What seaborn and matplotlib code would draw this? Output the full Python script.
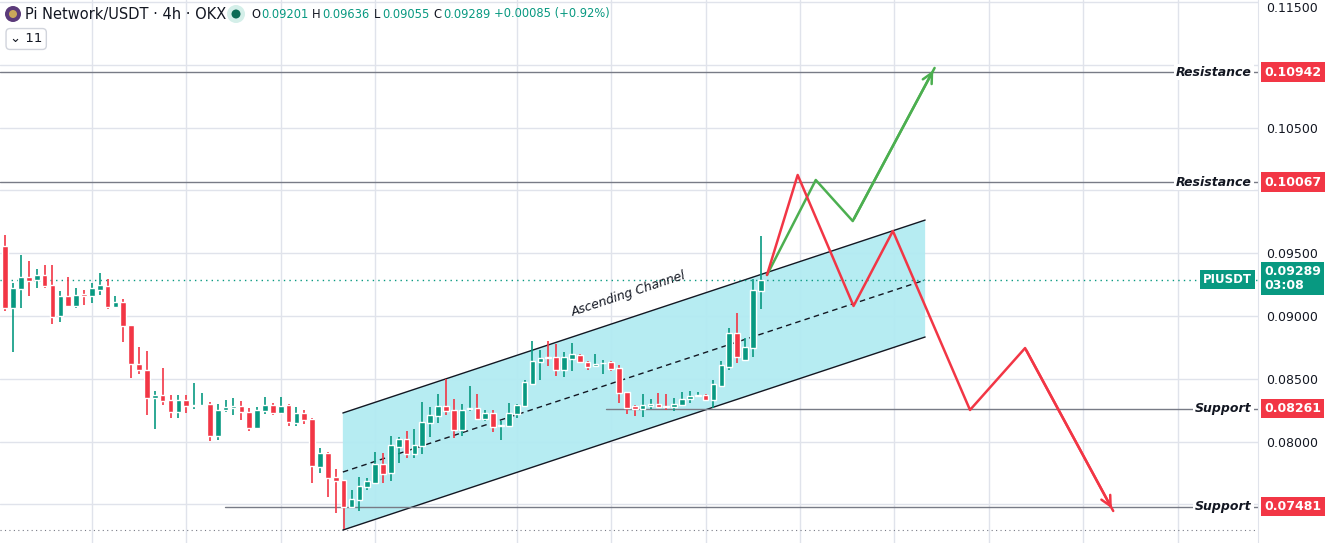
import numpy as np
import pandas as pd
import matplotlib
matplotlib.use("Agg")
import matplotlib.pyplot as plt
import seaborn as sns
from matplotlib.patches import Polygon, Ellipse

sns.set_style("white")
plt.rcParams['font.family'] = ['DejaVu Sans']

opens = [.09557,.09066,.09215,.09311,.09287,.09326,.09247,.09001,.09159,.09082,.09175,.09159,.09207,.09239,.09074,.09111,.08929,.08618,.08570,.08350,
         .08371,.08331,.08238,.08331,.08286,.08286,.08300,.08047,.08252,.08270,.08284,.08236,.08111,.08244,.08292,.08230,.08292,.08151,.08228,.08180,
         .07800,.07909,.07718,.07694,.07477,.07535,.07638,.07673,.07822,.07753,.07959,.08020,.07901,.07967,.08151,.08206,.08284,.08252,.08095,.08262,
         .08268,.08183,.08228,.08127,.08127,.08222,.08286,.08459,.08636,.08674,.08674,.08570,.08658,.08690,.08634,.08602,.08623,.08634,.08586,.08395,
         .08284,.08260,.08284,.08300,.08286,.08276,.08292,.08339,.08363,.08371,.08334,.08443,.08597,.08862,.08653,.08743,.09201]
highs = [.09645,.09263,.09486,.09438,.09374,.09406,.09406,.09199,.09311,.09223,.09207,.09263,.09342,.09295,.09159,.09135,.08929,.08753,.08721,.08403,
         .08586,.08371,.08371,.08371,.08467,.08387,.08316,.08300,.08331,.08347,.08323,.08268,.08276,.08355,.08308,.08355,.08300,.08276,.08252,.08188,
         .07949,.07920,.07784,.07694,.07615,.07718,.07710,.07917,.07909,.08044,.08036,.08084,.08100,.08316,.08276,.08379,.08498,.08339,.08300,.08443,
         .08379,.08252,.08252,.08164,.08308,.08300,.08490,.08804,.08729,.08801,.08777,.08713,.08785,.08698,.08642,.08698,.08650,.08642,.08610,.08397,
         .08292,.08379,.08339,.08387,.08379,.08347,.08395,.08403,.08395,.08377,.08490,.08642,.08902,.09022,.08822,.09292,.09636]
lows = [.09042,.08716,.09066,.09159,.09223,.09223,.08939,.08955,.09080,.09066,.09088,.09106,.09167,.09058,.09074,.08795,.08509,.08541,.08214,.08103,
        .08294,.08190,.08190,.08230,.08262,.08286,.08007,.08015,.08238,.08214,.08175,.08087,.08103,.08222,.08214,.08230,.08127,.08127,.08143,.07673,
        .07752,.07562,.07434,.07302,.07477,.07450,.07615,.07673,.07671,.07686,.07832,.07872,.07872,.07901,.08039,.08151,.08212,.08031,.08047,.08244,
        .08175,.08164,.08079,.08015,.08127,.08190,.08286,.08451,.08490,.08602,.08522,.08514,.08562,.08626,.08570,.08597,.08536,.08562,.08308,.08218,
        .08206,.08196,.08260,.08268,.08252,.08244,.08292,.08308,.08355,.08331,.08270,.08437,.08570,.08628,.08644,.08676,.09055]
closes = [.09066,.09221,.09311,.09281,.09326,.09239,.08995,.09159,.09082,.09167,.09159,.09223,.09247,.09074,.09111,.08923,.08620,.08573,.08350,.08371,
          .08326,.08238,.08331,.08286,.08294,.08294,.08047,.08252,.08276,.08284,.08238,.08111,.08252,.08292,.08230,.08284,.08159,.08228,.08175,.07808,
          .07909,.07713,.07689,.07477,.07543,.07646,.07686,.07822,.07745,.07973,.08020,.07901,.07973,.08156,.08212,.08284,.08246,.08095,.08252,.08268,
          .08183,.08228,.08119,.08135,.08228,.08292,.08475,.08642,.08666,.08666,.08570,.08674,.08698,.08634,.08594,.08618,.08628,.08578,.08387,.08268,
          .08260,.08292,.08300,.08276,.08278,.08300,.08339,.08363,.08374,.08334,.08459,.08610,.08862,.08676,.08753,.09207,.09289]

levels = [0.10942, 0.10067, 0.08261, 0.07481]
level_names = ["Resistance", "Resistance", "Support", "Support"]
last_price = 0.09289

chan_x = [42.9, 116.9]
chan_upper = [0.08228, 0.09764]
chan_mid = [0.07758, 0.09287]
chan_lower = [0.07296, 0.08833]

green_x = [96.8, 103.0, 107.7, 118.1]
green_y = [0.09327, 0.10083, 0.09756, 0.10975]
red_x = [96.8, 100.7, 107.8, 112.8, 122.6, 129.6, 140.8]
red_y = [0.09327, 0.10123, 0.09080, 0.09677, 0.08252, 0.08745, 0.07448]

yticks = [0.075, 0.080, 0.085, 0.090, 0.095, 0.100, 0.105, 0.110, 0.115]
ytick_labels = ["", "0.08000", "0.08500", "0.09000", "0.09500", "", "0.10500", "", "0.11500"]
grid_x = [11, 23, 35, 47, 65, 77, 89, 101, 113, 125, 137, 149]

UP, DN = "#089981", "#f23645"
W, H = 1325, 543
fig = plt.figure(figsize=(W/100, H/100), dpi=100)
ax = fig.add_axes([0, 0, 1258/W, 1])
ax.set_xlim(-0.67, 159.2)
ax.set_ylim(0.07193, 0.11516)

for g in grid_x:
    ax.axvline(g, color="#e0e3eb", lw=1, zorder=0)
for t in yticks:
    ax.axhline(t, color="#e0e3eb", lw=1, zorder=0)

df = pd.DataFrame({"i": np.arange(len(opens)), "o": opens, "h": highs, "l": lows, "c": closes})
df["col"] = np.where(df.c >= df.o, UP, DN)
ax.vlines(df.i, df.l, df.h, colors=df.col, lw=1.2, zorder=3)
ax.bar(df.i, (df.c - df.o).abs().clip(lower=0.00004), bottom=np.minimum(df.o, df.c), width=0.72, color=df.col, zorder=4)

poly = Polygon([(chan_x[0], chan_lower[0]), (chan_x[0], chan_upper[0]), (chan_x[1], chan_upper[1]), (chan_x[1], chan_lower[1])],
               closed=True, facecolor="#b2ebf2", alpha=0.95, edgecolor="none", zorder=1)
ax.add_patch(poly)
ax.plot(chan_x, chan_upper, color="#131722", lw=1, zorder=2)
ax.plot(chan_x, chan_lower, color="#131722", lw=1, zorder=2)
sns.lineplot(x=chan_x, y=chan_mid, ax=ax, color="#131722", lw=1, linestyle=(0, (4, 3)), zorder=2)
ax.text(79.5, 0.0913, "Ascending Channel", rotation=18.3, ha="center", va="bottom", fontsize=9, style="italic",
        color="#131722", zorder=6, rotation_mode="anchor")

ax.axhline(levels[0], color="#787b86", lw=1, zorder=2)
ax.axhline(levels[1], color="#787b86", lw=1, zorder=2)
ax.plot([76.3, 159.2], [levels[2], levels[2]], color="#787b86", lw=1, zorder=2)
ax.plot([27.9, 159.2], [levels[3], levels[3]], color="#787b86", lw=1, zorder=2)
ax.axhline(last_price, color=UP, lw=1, linestyle=(0, (1, 3)), zorder=2)
ax.axhline(0.07296, color="#787b86", lw=0.8, linestyle=(0, (1, 3)), zorder=0)

ax.plot(green_x, green_y, color="#4caf50", lw=1.8, zorder=5)
ax.annotate("", xy=(green_x[-1], green_y[-1]), xytext=(green_x[-2], green_y[-2]),
            arrowprops=dict(arrowstyle="->", color="#4caf50", lw=1.8, mutation_scale=18), zorder=5)
ax.plot(red_x, red_y, color=DN, lw=1.8, zorder=5)
ax.annotate("", xy=(red_x[-1], red_y[-1]), xytext=(red_x[-2], red_y[-2]),
            arrowprops=dict(arrowstyle="->", color=DN, lw=1.8, mutation_scale=18), zorder=5)

ax.yaxis.tick_right()
ax.set_yticks(yticks)
ax.set_yticklabels(ytick_labels, fontsize=9, color="#131722")
ax.get_yticklabels()[-1].set_va("top")
ax.tick_params(axis="y", length=0, pad=6)
ax.set_xticks([])
for s in ["top", "bottom", "left"]:
    ax.spines[s].set_visible(False)
ax.spines["right"].set_color("#e0e3eb")

for lv, nm in zip(levels, level_names):
    ax.text(1.005, lv, f"{lv:.5f}", transform=ax.get_yaxis_transform(), ha="left", va="center", fontsize=9,
            fontweight="bold", color="white", zorder=20, clip_on=False,
            bbox=dict(boxstyle="square,pad=0.25", fc=DN, ec="none"))
    ax.text(0.995, lv, nm, transform=ax.get_yaxis_transform(), ha="right", va="center", fontsize=9,
            style="italic", fontweight="bold", color="#131722", zorder=20,
            bbox=dict(boxstyle="square,pad=0.15", fc="white", ec="none"))
ax.text(1.005, last_price + 0.0001, f"{last_price:.5f}\n03:08", transform=ax.get_yaxis_transform(), ha="left",
        va="center", fontsize=9, fontweight="bold", color="white", zorder=20, clip_on=False, linespacing=1.1,
        bbox=dict(boxstyle="square,pad=0.25", fc=UP, ec="none"))
ax.text(0.995, last_price, "PIUSDT", transform=ax.get_yaxis_transform(), ha="right", va="center", fontsize=8.5,
        fontweight="bold", color="white", zorder=20, bbox=dict(boxstyle="square,pad=0.25", fc=UP, ec="none"))

def circ(xp, yp, rp, fc):
    fig.patches.append(Ellipse((xp/W, 1 - yp/H), 2*rp/W, 2*rp/H, transform=fig.transFigure, fc=fc, ec="none"))

circ(13, 14, 8, "#5b3a7a")
circ(13, 14, 4, "#c9a75a")
fig.text(25/W, 1 - 14/H, "Pi Network/USDT · 4h · OKX", fontsize=10.5, color="#131722", va="center")
circ(236, 14, 9, "#d4efe9")
circ(236, 14, 4.5, "#0b6b55")
parts = [("O", 251), ("0.09201", 261), ("H", 312), ("0.09636", 322), ("L", 374), ("0.09055", 382),
         ("C", 433), ("0.09289", 443), ("+0.00085 (+0.92%)", 494)]
for i, (t, x) in enumerate(parts):
    fig.text(x/W, 1 - 14/H, t, fontsize=8.3, va="center", color="#131722" if (i % 2 == 0 and i < 8) else UP)
fig.text(10/W, 1 - 39/H, "⌄ 11", fontsize=9.5, va="center", color="#131722",
         bbox=dict(boxstyle="round,pad=0.3", fc="white", ec="#d1d4dc"))

fig.savefig("out.png", dpi=100)
